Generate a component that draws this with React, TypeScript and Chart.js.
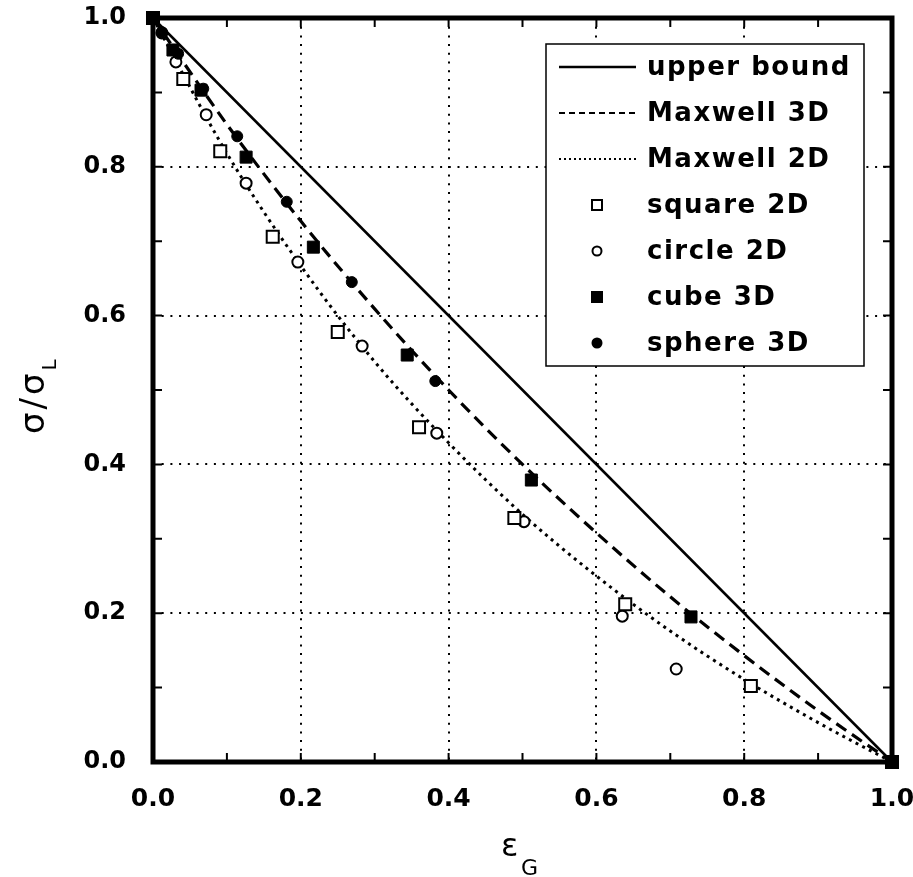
import React, { useEffect, useRef } from "react";
import { Chart, registerables } from "chart.js";
Chart.register(...registerables);

const FONT = '"DejaVu Sans", sans-serif';

// axis ticks
const tickValues = [0, 0.2, 0.4, 0.6, 0.8, 1.0];
const minorTickValues = [0.1, 0.2, 0.3, 0.4, 0.5, 0.6, 0.7, 0.8, 0.9];
const gridValues = [0.2, 0.4, 0.6, 0.8];

// curves
const upperX = [0, 1];
const upperY = [1, 0];
const maxwell3dX = [0, 0.1, 0.2, 0.3, 0.4, 0.5, 0.6, 0.7, 0.8, 0.9, 1.0];
const maxwell3dY = [1, 0.857, 0.727, 0.609, 0.5, 0.4, 0.308, 0.222, 0.143, 0.069, 0];
const maxwell2dX = [0, 0.1, 0.2, 0.3, 0.4, 0.5, 0.6, 0.7, 0.8, 0.9, 1.0];
const maxwell2dY = [1, 0.818, 0.667, 0.538, 0.429, 0.333, 0.25, 0.176, 0.111, 0.053, 0];

// simulation points
const squareX = [0, 0.041, 0.091, 0.162, 0.25, 0.36, 0.489, 0.639, 0.809, 1.0];
const squareY = [1, 0.918, 0.821, 0.706, 0.578, 0.45, 0.328, 0.212, 0.102, 0];
const circleX = [0.012, 0.031, 0.072, 0.126, 0.196, 0.283, 0.384, 0.502, 0.635, 0.708];
const circleY = [0.98, 0.941, 0.87, 0.778, 0.672, 0.559, 0.442, 0.323, 0.196, 0.125];
const cubeX = [0, 0.027, 0.065, 0.126, 0.217, 0.344, 0.512, 0.728, 1.0];
const cubeY = [1, 0.957, 0.903, 0.813, 0.692, 0.547, 0.379, 0.195, 0];
const sphereX = [0.012, 0.034, 0.068, 0.114, 0.181, 0.269, 0.382];
const sphereY = [0.981, 0.952, 0.905, 0.841, 0.753, 0.645, 0.512];

const legendLabels = [
  "upper bound",
  "Maxwell 3D",
  "Maxwell 2D",
  "square 2D",
  "circle 2D",
  "cube 3D",
  "sphere 3D",
];

const pts = (xs: number[], ys: number[]) => xs.map((x, i) => ({ x, y: ys[i] }));

const framePlugin = {
  id: "frame",
  beforeDatasetsDraw(chart: any) {
    const { ctx, chartArea: a, scales } = chart;
    const xs = scales.x;
    const ys = scales.y;
    ctx.save();
    // dotted grid
    ctx.strokeStyle = "#000";
    ctx.lineWidth = 2;
    ctx.setLineDash([2, 6.7]);
    gridValues.forEach((v) => {
      const px = Math.round(xs.getPixelForValue(v));
      ctx.beginPath();
      ctx.moveTo(px, a.top);
      ctx.lineTo(px, a.bottom);
      ctx.stroke();
      const py = Math.round(ys.getPixelForValue(v));
      ctx.beginPath();
      ctx.moveTo(a.left, py);
      ctx.lineTo(a.right, py);
      ctx.stroke();
    });
    ctx.setLineDash([]);
    // inward ticks on all sides
    const tl = 9;
    ctx.lineWidth = 2;
    minorTickValues.forEach((v) => {
      const px = xs.getPixelForValue(v);
      const py = ys.getPixelForValue(v);
      ctx.beginPath();
      ctx.moveTo(px, a.bottom);
      ctx.lineTo(px, a.bottom - tl);
      ctx.moveTo(px, a.top);
      ctx.lineTo(px, a.top + tl);
      ctx.moveTo(a.left, py);
      ctx.lineTo(a.left + tl, py);
      ctx.moveTo(a.right, py);
      ctx.lineTo(a.right - tl, py);
      ctx.stroke();
    });
    // thick frame
    ctx.lineWidth = 5;
    ctx.strokeRect(a.left, a.top, a.right - a.left, a.bottom - a.top);
    ctx.restore();
  },
  afterDatasetsDraw(chart: any) {
    const { ctx } = chart;
    ctx.save();
    // legend box
    const bx = 546, by = 44, bw = 318, rowH = 46, r0 = 67;
    const bh = r0 - by + rowH * 6 + 23;
    ctx.fillStyle = "#fff";
    ctx.fillRect(bx, by, bw, bh);
    ctx.strokeStyle = "#000";
    ctx.lineWidth = 1.5;
    ctx.strokeRect(bx, by, bw, bh);
    const ds = chart.data.datasets;
    legendLabels.forEach((lab, i) => {
      const y = r0 + rowH * i;
      const d = ds[i];
      ctx.save();
      if (i < 3) {
        ctx.strokeStyle = "#000";
        ctx.lineWidth = i === 0 ? 2.5 : 2;
        ctx.setLineDash(i === 0 ? [] : i === 1 ? [6, 4] : [2, 3]);
        ctx.beginPath();
        ctx.moveTo(559, y);
        ctx.lineTo(636, y);
        ctx.stroke();
      } else {
        ctx.strokeStyle = "#000";
        ctx.fillStyle = d.backgroundColor;
        ctx.lineWidth = 2;
        if (d.pointStyle === "rect") {
          ctx.beginPath();
          ctx.rect(597 - 5, y - 5, 10, 10);
          ctx.fill();
          ctx.stroke();
        } else {
          ctx.beginPath();
          ctx.arc(597, y, 4.5, 0, Math.PI * 2);
          ctx.fill();
          ctx.stroke();
        }
      }
      ctx.restore();
      ctx.fillStyle = "#000";
      ctx.font = `bold 26px ${FONT}`;
      (ctx as any).letterSpacing = "1.5px";
      ctx.textAlign = "left";
      ctx.textBaseline = "middle";
      ctx.fillText(lab, 647, y + 1);
    });
    (ctx as any).letterSpacing = "0px";
    // x axis title: epsilon_G
    ctx.fillStyle = "#000";
    ctx.textBaseline = "alphabetic";
    ctx.textAlign = "left";
    ctx.font = `32px ${FONT}`;
    ctx.fillText("ε", 501, 856);
    ctx.font = `22px ${FONT}`;
    ctx.fillText("G", 521, 875);
    // y axis title: sigma / sigma_L (rotated)
    ctx.save();
    ctx.translate(44, 434);
    ctx.rotate(-Math.PI / 2);
    ctx.font = `34px ${FONT}`;
    (ctx as any).letterSpacing = "3px";
    const main = "σ/σ";
    ctx.fillText(main, 0, 0);
    const w = ctx.measureText(main).width;
    (ctx as any).letterSpacing = "0px";
    ctx.font = `20px ${FONT}`;
    ctx.fillText("L", w, 12);
    ctx.restore();
    ctx.restore();
  },
};

const zeroPad = (s: any) => {
  s.paddingTop = 0;
  s.paddingBottom = 0;
  s.paddingLeft = 0;
  s.paddingRight = 0;
};

export default function App() {
  const ref = useRef<HTMLCanvasElement>(null);
  useEffect(() => {
    if (!ref.current) return;
    const chart = new Chart(ref.current, {
      type: "scatter",
      data: {
        datasets: [
          {
            label: "upper bound",
            data: pts(upperX, upperY),
            showLine: true,
            borderColor: "#000",
            borderWidth: 2.5,
            pointRadius: 0,
            order: 3,
            clip: false,
          } as any,
          {
            label: "Maxwell 3D",
            data: pts(maxwell3dX, maxwell3dY),
            showLine: true,
            borderColor: "#000",
            borderWidth: 3.2,
            borderDash: [12, 7],
            pointRadius: 0,
            cubicInterpolationMode: "monotone",
            order: 3,
            clip: false,
          },
          {
            label: "Maxwell 2D",
            data: pts(maxwell2dX, maxwell2dY),
            showLine: true,
            borderColor: "#000",
            borderWidth: 3,
            borderDash: [3, 4.5],
            pointRadius: 0,
            cubicInterpolationMode: "monotone",
            order: 3,
            clip: false,
          },
          {
            label: "square 2D",
            data: pts(squareX, squareY),
            showLine: false,
            pointStyle: "rect",
            pointRadius: 8.5,
            pointBorderWidth: 2,
            borderColor: "#000",
            backgroundColor: "#fff",
            order: 2,
            clip: false,
          },
          {
            label: "circle 2D",
            data: pts(circleX, circleY),
            showLine: false,
            pointStyle: "circle",
            pointRadius: 5.5,
            pointBorderWidth: 2,
            borderColor: "#000",
            backgroundColor: "#fff",
            order: 2,
            clip: false,
          },
          {
            label: "cube 3D",
            data: pts(cubeX, cubeY),
            showLine: false,
            pointStyle: "rect",
            pointRadius: 8.5,
            pointBorderWidth: 1,
            borderColor: "#000",
            backgroundColor: "#000",
            order: 1,
            clip: false,
          },
          {
            label: "sphere 3D",
            data: pts(sphereX, sphereY),
            showLine: false,
            pointStyle: "circle",
            pointRadius: 5.5,
            pointBorderWidth: 1,
            borderColor: "#000",
            backgroundColor: "#000",
            order: 1,
            clip: false,
          },
        ],
      },
      options: {
        animation: false,
        responsive: true,
        maintainAspectRatio: false,
        layout: { padding: { top: 18, right: 21, left: 0, bottom: 0 } },
        plugins: { legend: { display: false }, tooltip: { enabled: false } },
        scales: {
          x: {
            type: "linear",
            min: 0,
            max: 1,
            grid: { display: false, drawTicks: false },
            border: { display: false },
            afterBuildTicks: (s: any) => {
              s.ticks = tickValues.map((v) => ({ value: v }));
            },
            afterFit: (s: any) => {
              s.height = 115;
              zeroPad(s);
            },
            ticks: {
              color: "#000",
              padding: 22,
              maxRotation: 0,
              font: { family: FONT, size: 25, weight: "bold" },
              callback: (v: any) => Number(v).toFixed(1),
            },
          },
          y: {
            type: "linear",
            min: 0,
            max: 1,
            grid: { display: false, drawTicks: false },
            border: { display: false },
            afterBuildTicks: (s: any) => {
              s.ticks = tickValues.map((v) => ({ value: v }));
            },
            afterFit: (s: any) => {
              s.width = 153;
              zeroPad(s);
            },
            ticks: {
              color: "#000",
              padding: 27,
              font: { family: FONT, size: 24, weight: "bold" },
              callback: (v: any) => Number(v).toFixed(1),
            },
          },
        },
      },
      plugins: [framePlugin],
    });
    return () => chart.destroy();
  }, []);
  return (
    <div style={{ position: "absolute", left: 0, top: 0, width: 913, height: 877, background: "#fff" }}>
      <canvas ref={ref} />
    </div>
  );
}
